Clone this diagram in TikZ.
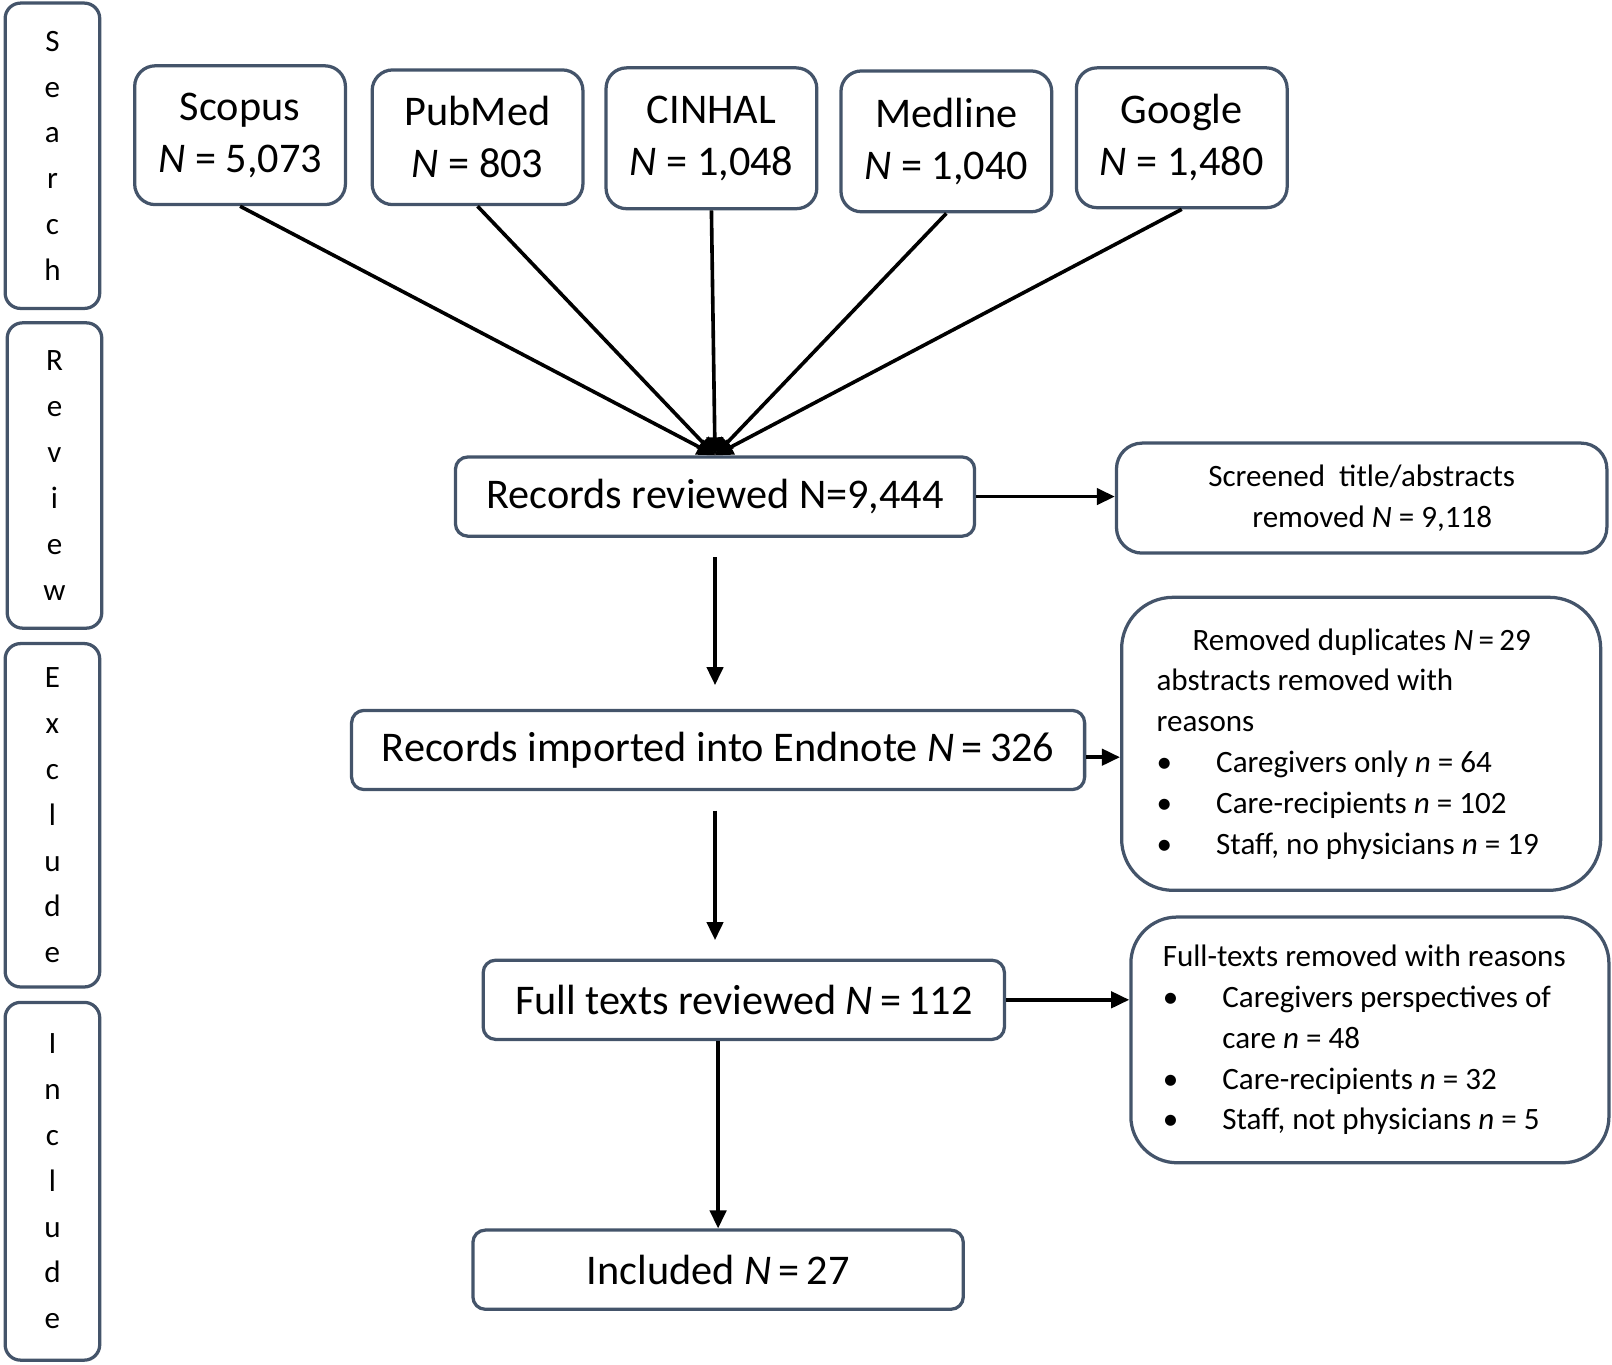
\documentclass[tikz,border=0pt]{standalone}
\usepackage{fontspec}
\setmainfont{Carlito}
\usetikzlibrary{arrows.meta,positioning}
\definecolor{boxline}{HTML}{44546A}
\newcommand{\bul}{\makebox[0.58cm][l]{\textbullet}}

\begin{document}
\begin{tikzpicture}[>={Triangle[length=5pt,width=4.5pt]},line width=1pt,
    box/.style={draw=boxline,line width=0.9pt,rounded corners=#1,align=center,inner sep=0pt},
    box/.default=2mm,
    big/.style={font=\fontsize{11.7}{14.4}\selectfont},
    small/.style={font=\fontsize{8.6}{11.3}\selectfont},
    side/.style={box=1.5mm,minimum width=0.92cm,font=\fontsize{8.6}{12.7}\selectfont},
    src/.style={box=2mm,big,minimum width=2.05cm,minimum height=1.35cm},
    step node/.style={box=1.2mm,big,minimum height=0.77cm},
    reasons/.style={box=#1,small,inner ysep=0pt}]

\useasboundingbox (0,0) rectangle (15.68,-13.27);

% stage labels
\node[side, minimum height=2.97cm] (search) at (0.51,-1.515) {S\\e\\a\\r\\c\\h};
\node[side, minimum height=2.97cm] (review) at (0.53,-4.625) {R\\e\\v\\i\\e\\w};
\node[side, minimum height=3.34cm] (exclude) at (0.51,-7.93) {E\\x\\c\\l\\u\\d\\e};
\node[side, minimum height=3.48cm] (include) at (0.51,-11.49) {I\\n\\c\\l\\u\\d\\e};

% databases
\node[src] (scopus) at (2.335,-1.315) {Scopus\\\textit{N} = 5,073};
\node[src, minimum height=1.31cm] (pubmed) at (4.645,-1.335) {PubMed\\\textit{N} = 803};
\node[src, minimum height=1.37cm] (cinhal) at (6.92,-1.345) {CINHAL\\\textit{N} = 1,048};
\node[src, minimum height=1.37cm] (medline) at (9.205,-1.375) {Medline\\\textit{N} = 1,040};
\node[src, minimum height=1.36cm] (google) at (11.495,-1.34) {Google\\\textit{N} = 1,480};

% main flow
\node[step node, minimum width=5.05cm] (rev) at (6.955,-4.83) {Records reviewed N=9,444};
\node[step node, minimum width=7.13cm] (imp) at (6.985,-7.295) {Records imported into Endnote \textit{N}\,=\,326};
\node[step node, minimum width=5.07cm] (full) at (7.235,-9.725) {Full texts reviewed \textit{N}\,=\,112};
\node[step node, minimum width=4.77cm] (inc) at (6.985,-12.35) {Included \textit{N}\,=\,27};

% removed records
\node[box=2.5mm, small, minimum width=4.77cm, minimum height=1.07cm] (scr) at (13.245,-4.845)
  {Screened\ \ title/abstracts\\ \ \ \ removed \textit{N} = 9,118};
\node[reasons=5mm, inner xsep=0.34cm, minimum height=2.85cm] (dup) at (13.24,-7.235)
  {\parbox{3.98cm}{\raggedright
   \hspace*{0.35cm}Removed duplicates \textit{N}\,=\,29\\
   abstracts removed with\\
   reasons\\
   \bul Caregivers only \textit{n} = 64\\
   \bul Care-recipients \textit{n} = 102\\
   \bul Staff, no physicians \textit{n} = 19}};
\node[reasons=4.5mm, inner xsep=0.31cm, minimum height=2.39cm] (ftr) at (13.325,-10.115)
  {\parbox{4.03cm}{\raggedright
   Full-texts removed with reasons\\
   \bul Caregivers perspectives of\\
   \hspace*{0.58cm}care \textit{n} = 48\\
   \bul Care-recipients \textit{n} = 32\\
   \bul Staff, not physicians \textit{n} = 5}};

\path[->]
(scopus.south) edge (rev.north)
(pubmed.south) edge (rev.north)
(cinhal.south) edge (rev.north)
(medline.south) edge (rev.north)
(google.south) edge (rev.north)
(rev.east) edge (rev.east -| scr.west)
([yshift=-0.07cm]imp.east) edge ([yshift=-0.07cm]imp.east -| dup.west)
(full.east) edge (full.east -| ftr.west)
(rev.south) edge[shorten <=0.19cm, shorten >=0.23cm] (rev.south |- imp.north)
(rev.south |- imp.south) edge[shorten <=0.19cm, shorten >=0.18cm] (rev.south |- full.north)
(inc.north |- full.south) edge (inc.north);

\end{tikzpicture}
\end{document}
